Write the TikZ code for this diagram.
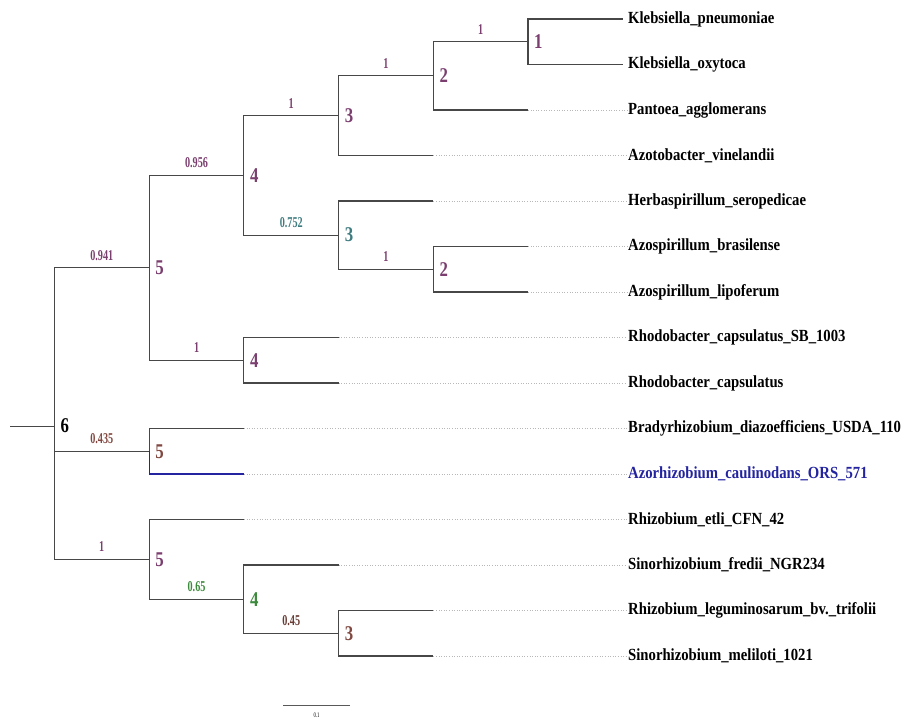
\documentclass[tikz,border=0pt]{standalone}
\usepackage{fontspec}
\setmainfont{Liberation Serif}
\newfontfamily\leaffont[FakeStretch=0.865]{Liberation Serif}
\newfontfamily\supfont[FakeStretch=0.68]{Liberation Serif}
\newfontfamily\cladefont[FakeStretch=0.8]{Liberation Serif}

\definecolor{plum}{HTML}{7B3F6F}
\definecolor{tealgrey}{HTML}{3F7C80}
\definecolor{leafgreen}{HTML}{3C8A3C}
\definecolor{rust}{HTML}{804840}
\definecolor{navy}{HTML}{2424A0}

\begin{document}
\begin{tikzpicture}[x=1pt, y=-1pt,
	branch/.style={draw=black!72, line width=1.15pt},
	leafdot/.style={draw=black!28, dotted, line width=0.6pt},
	taxon/.style={anchor=west, inner sep=1pt, font=\leaffont\bfseries\fontsize{17}{20}\selectfont},
	support/.style={font=\supfont\bfseries\fontsize{15}{16}\selectfont, inner sep=1pt, above=6pt},
	clade/.style={anchor=west, inner sep=0pt, xshift=6pt, font=\cladefont\bfseries\fontsize{21}{22}\selectfont}]
		\useasboundingbox (0, 0) rectangle (904, 720);
		
		% internal nodes (x levels 54.3, 149.2, 243.9, 338.6, 433.3, 528, 622.7)
		\coordinate (stub) at (10, 426.1);
		\coordinate (root) at (54.3, 426.1);
		\coordinate (c5a) at (149.2, 267.8);
		\coordinate (c4a) at (243.9, 175.4);
		\coordinate (c3a) at (338.6, 115.7);
		\coordinate (c2a) at (433.3, 75.9);
		\coordinate (c1a) at (528, 41.75);
		\coordinate (c3b) at (338.6, 235.1);
		\coordinate (c2b) at (433.3, 269.25);
		\coordinate (c4b) at (243.9, 360.25);
		\coordinate (c5b) at (149.2, 451.25);
		\coordinate (c5c) at (149.2, 559.3);
		\coordinate (c4c) at (243.9, 599.1);
		\coordinate (c3c) at (338.6, 633.25);
		
		% tips of the solid leaf branches
		\coordinate (t1) at (622.7, 19);
		\coordinate (t2) at (622.7, 64.5);
		\coordinate (t3) at (528, 110);
		\coordinate (t4) at (433.3, 155.5);
		\coordinate (t5) at (433.3, 201);
		\coordinate (t6) at (528, 246.5);
		\coordinate (t7) at (528, 292);
		\coordinate (t8) at (338.6, 337.5);
		\coordinate (t9) at (338.6, 383);
		\coordinate (t10) at (243.9, 428.5);
		\coordinate (t11) at (243.9, 474);
		\coordinate (t12) at (243.9, 519.5);
		\coordinate (t13) at (338.6, 565);
		\coordinate (t14) at (433.3, 610.5);
		\coordinate (t15) at (433.3, 656);
		
		% taxon names
		\node[taxon] (leaf1) at (627, 19) {Klebsiella\_pneumoniae};
		\node[taxon] (leaf2) at (627, 64.5) {Klebsiella\_oxytoca};
		\node[taxon] (leaf3) at (627, 110) {Pantoea\_agglomerans};
		\node[taxon] (leaf4) at (627, 155.5) {Azotobacter\_vinelandii};
		\node[taxon] (leaf5) at (627, 201) {Herbaspirillum\_seropedicae};
		\node[taxon] (leaf6) at (627, 246.5) {Azospirillum\_brasilense};
		\node[taxon] (leaf7) at (627, 292) {Azospirillum\_lipoferum};
		\node[taxon] (leaf8) at (627, 337.5) {Rhodobacter\_capsulatus\_SB\_1003};
		\node[taxon] (leaf9) at (627, 383) {Rhodobacter\_capsulatus};
		\node[taxon] (leaf10) at (627, 428.5) {Bradyrhizobium\_diazoefficiens\_USDA\_110};
		\node[taxon, text=navy] (leaf11) at (627, 474) {Azorhizobium\_caulinodans\_ORS\_571};
		\node[taxon] (leaf12) at (627, 519.5) {Rhizobium\_etli\_CFN\_42};
		\node[taxon] (leaf13) at (627, 565) {Sinorhizobium\_fredii\_NGR234};
		\node[taxon] (leaf14) at (627, 610.5) {Rhizobium\_leguminosarum\_bv.\_trifolii};
		\node[taxon] (leaf15) at (627, 656) {Sinorhizobium\_meliloti\_1021};
		
		% dotted guides from branch tips to names
		\draw[leafdot] (t3) -- (leaf3);
		\draw[leafdot] (t4) -- (leaf4);
		\draw[leafdot] (t5) -- (leaf5);
		\draw[leafdot] (t6) -- (leaf6);
		\draw[leafdot] (t7) -- (leaf7);
		\draw[leafdot] (t8) -- (leaf8);
		\draw[leafdot] (t9) -- (leaf9);
		\draw[leafdot] (t10) -- (leaf10);
		\draw[leafdot] (t11) -- (leaf11);
		\draw[leafdot] (t12) -- (leaf12);
		\draw[leafdot] (t13) -- (leaf13);
		\draw[leafdot] (t14) -- (leaf14);
		\draw[leafdot] (t15) -- (leaf15);
		
		% branches, support values on the horizontal parts
		\draw[branch] (stub) -- (root);
		\draw[branch] (root) |- (c5a) node[support, pos=0.75, text=plum] {0.941};
		\draw[branch] (root) |- (c5b) node[support, pos=0.75, text=rust] {0.435};
		\draw[branch] (root) |- (c5c) node[support, pos=0.75, text=plum] {1};
		
		\draw[branch] (c5a) |- (c4a) node[support, pos=0.75, text=plum] {0.956};
		\draw[branch] (c5a) |- (c4b) node[support, pos=0.75, text=plum] {1};
		\draw[branch] (c4a) |- (c3a) node[support, pos=0.75, text=plum] {1};
		\draw[branch] (c4a) |- (c3b) node[support, pos=0.75, text=tealgrey] {0.752};
		\draw[branch] (c3a) |- (c2a) node[support, pos=0.75, text=plum] {1};
		\draw[branch] (c3a) |- (t4);
		\draw[branch] (c2a) |- (c1a) node[support, pos=0.75, text=plum] {1};
		\draw[branch] (c2a) |- (t3);
		\draw[branch] (c1a) |- (t1);
		\draw[branch] (c1a) |- (t2);
		\draw[branch] (c3b) |- (t5);
		\draw[branch] (c3b) |- (c2b) node[support, pos=0.75, text=plum] {1};
		\draw[branch] (c2b) |- (t6);
		\draw[branch] (c2b) |- (t7);
		\draw[branch] (c4b) |- (t8);
		\draw[branch] (c4b) |- (t9);
		
		\draw[branch] (c5b) |- (t10);
		\draw[branch, draw=navy] (c5b) |- (t11);
		
		\draw[branch] (c5c) |- (t12);
		\draw[branch] (c5c) |- (c4c) node[support, pos=0.75, text=leafgreen] {0.65};
		\draw[branch] (c4c) |- (t13);
		\draw[branch] (c4c) |- (c3c) node[support, pos=0.75, text=rust!80!black] {0.45};
		\draw[branch] (c3c) |- (t14);
		\draw[branch] (c3c) |- (t15);
		
		% clade sizes
		\node[clade] (root-lbl) at (root) {6};
		\node[clade, text=plum] (c5a-lbl) at (c5a) {5};
		\node[clade, text=plum] (c4a-lbl) at (c4a) {4};
		\node[clade, text=plum] (c3a-lbl) at (c3a) {3};
		\node[clade, text=plum] (c2a-lbl) at (c2a) {2};
		\node[clade, text=plum] (c1a-lbl) at (c1a) {1};
		\node[clade, text=tealgrey] (c3b-lbl) at (c3b) {3};
		\node[clade, text=plum] (c2b-lbl) at (c2b) {2};
		\node[clade, text=plum] (c4b-lbl) at (c4b) {4};
		\node[clade, text=rust] (c5b-lbl) at (c5b) {5};
		\node[clade, text=plum] (c5c-lbl) at (c5c) {5};
		\node[clade, text=leafgreen] (c4c-lbl) at (c4c) {4};
		\node[clade, text=rust] (c3c-lbl) at (c3c) {3};
		
		% scale bar
		\coordinate (bar-l) at (283, 705.7);
		\coordinate (bar-r) at (350, 705.7);
		\draw[draw=black!65, line width=1.2pt] (bar-l) -- (bar-r);
		\node[font=\supfont\fontsize{7}{8}\selectfont, inner sep=0pt] (bar-lbl) at (316.5, 715) {0.1};
	\end{tikzpicture}
\end{document}
